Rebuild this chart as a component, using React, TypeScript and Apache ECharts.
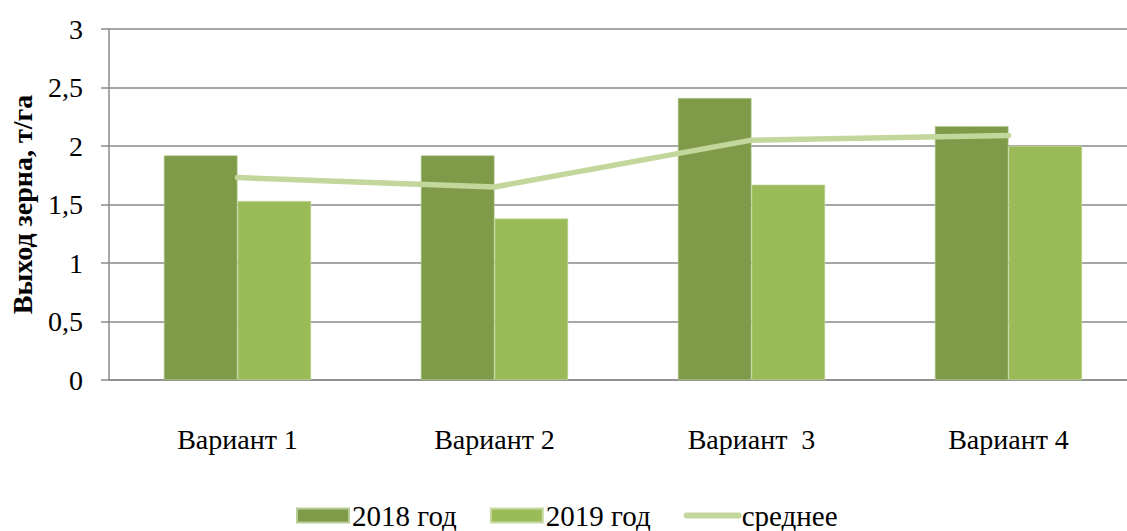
import React, { useEffect, useRef } from "react";
import * as echarts from "echarts";

const categories = ["Вариант 1", "Вариант 2", "Вариант  3", "Вариант 4"];
const y2018 = [1.92, 1.92, 2.41, 2.17];
const y2019 = [1.53, 1.38, 1.67, 2.0];
const avg = [1.73, 1.65, 2.05, 2.09];
const seriesNames = ["2018 год", "2019 год", "среднее"];

const FONT = "Liberation Serif, Times New Roman, serif";

export default function App() {
  const ref = useRef<HTMLDivElement>(null);
  useEffect(() => {
    if (!ref.current) return;
    const chart = echarts.init(ref.current, undefined, { renderer: "svg" });
    chart.setOption({
      animation: false,
      textStyle: { fontFamily: FONT, color: "#000" },
      grid: { left: 108, top: 29, width: 1029, height: 351, containLabel: false },
      legend: {
        left: 291,
        top: 496,
        itemWidth: 52,
        itemHeight: 14,
        itemGap: 33,
        textStyle: { fontFamily: FONT, fontSize: 29, lineHeight: 29, color: "#000", padding: [0, 0, 0, -2] },
        data: [
          { name: seriesNames[0], icon: "rect" },
          { name: seriesNames[1], icon: "rect" },
          { name: seriesNames[2], itemStyle: { opacity: 0 }, lineStyle: { width: 6, cap: "round", color: "#C3D69B" } },
        ],
      },
      xAxis: {
        type: "category",
        data: categories,
        axisLine: { show: true, lineStyle: { color: "#8A8A8A", width: 1.5 } },
        axisTick: { show: false },
        axisLabel: { fontFamily: FONT, fontSize: 28, color: "#000", margin: 45 },
      },
      yAxis: {
        type: "value",
        min: 0,
        max: 3,
        interval: 0.5,
        name: "Выход зерна, т/га",
        nameLocation: "middle",
        nameGap: 73,
        nameRotate: 90,
        nameTextStyle: { fontFamily: FONT, fontSize: 28, fontWeight: "bold", color: "#000" },
        axisLine: { show: true, lineStyle: { color: "#8A8A8A", width: 1.5 } },
        axisTick: { show: true, length: 8, lineStyle: { color: "#8A8A8A", width: 1.5 } },
        splitLine: { show: true, lineStyle: { color: "#8A8A8A", width: 1.5 } },
        axisLabel: {
          fontFamily: FONT,
          fontSize: 28,
          color: "#000",
          margin: 26,
          formatter: (v: number) => String(v).replace(".", ","),
        },
      },
      series: [
        {
          name: seriesNames[0],
          type: "bar",
          data: y2018,
          barGap: "0%",
          barCategoryGap: "42.7%",
          itemStyle: { color: "#7F9B4A", borderColor: "#B9CD96", borderWidth: 0.6 },
        },
        {
          name: seriesNames[1],
          type: "bar",
          data: y2019,
          itemStyle: { color: "#9BBB59", borderColor: "#C9DBA4", borderWidth: 0.6 },
        },
        {
          name: seriesNames[2],
          type: "line",
          data: avg,
          symbol: "none",
          showSymbol: false,
          lineStyle: { color: "#C3D69B", width: 5.5, cap: "round" },
          itemStyle: { color: "#C3D69B" },
        },
      ],
    });
    return () => chart.dispose();
  }, []);
  return (
    <div style={{ position: "fixed", left: 0, top: 0, width: 1127, height: 531, overflow: "hidden", background: "#fff" }}>
      <div ref={ref} style={{ width: 1160, height: 560 }} />
    </div>
  );
}
